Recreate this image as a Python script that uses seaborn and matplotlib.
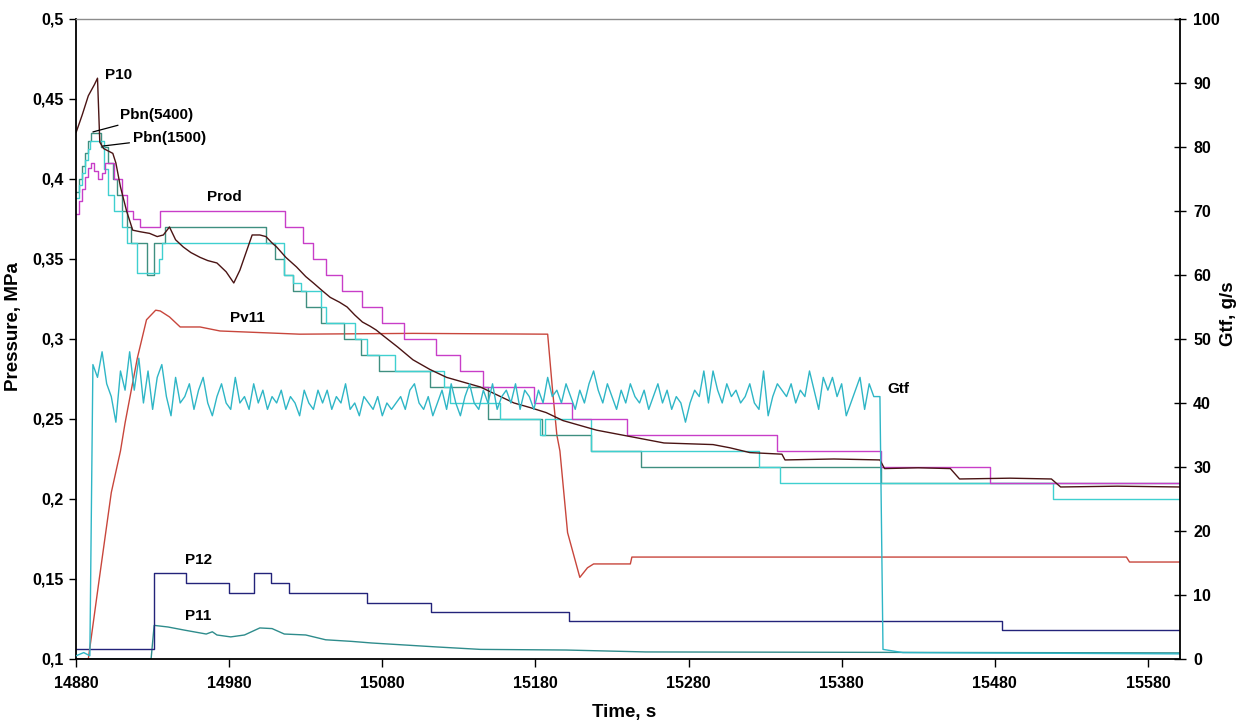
import matplotlib
matplotlib.use('Agg')
import matplotlib.pyplot as plt
import seaborn as sns

# axes
x_ticks = [14880, 14980, 15080, 15180, 15280, 15380, 15480, 15580]
p_ticks = [0.1, 0.15, 0.2, 0.25, 0.3, 0.35, 0.4, 0.45, 0.5]
p_tick_labels = ['0,1', '0,15', '0,2', '0,25', '0,3', '0,35', '0,4', '0,45', '0,5']
g_ticks = [0, 10, 20, 30, 40, 50, 60, 70, 80, 90, 100]

# P10, MPa
p10_t = [14880, 14884, 14888, 14892, 14894, 14895.5, 14898, 14904, 14906, 14909,
         14913, 14917, 14922, 14928, 14933, 14937, 14941, 14945, 14950, 14955,
         14961, 14966, 14972, 14978, 14983, 14987, 14991, 14995, 15000, 15004,
         15008, 15011, 15017, 15024, 15030, 15035, 15041, 15046, 15052, 15057,
         15062, 15067, 15072, 15076, 15080, 15090, 15100, 15111, 15122, 15133,
         15144, 15155, 15166, 15177, 15187, 15198, 15209, 15220, 15231, 15242,
         15253, 15264, 15280, 15296, 15307, 15320, 15341, 15343, 15375, 15405,
         15408, 15430, 15451, 15457, 15490, 15517, 15523, 15560, 15601]
p10 = [0.429, 0.44, 0.452, 0.459, 0.463, 0.423, 0.419, 0.416, 0.41, 0.395,
       0.38, 0.368, 0.367, 0.366, 0.364, 0.365, 0.37, 0.362, 0.3575, 0.354,
       0.351, 0.349, 0.3475, 0.342, 0.335, 0.343, 0.354, 0.365, 0.365, 0.364,
       0.36, 0.3575, 0.351, 0.345, 0.339, 0.335, 0.33, 0.326, 0.323, 0.32,
       0.315, 0.3106, 0.308, 0.3056, 0.3025, 0.295, 0.287, 0.281, 0.276, 0.273,
       0.27, 0.265, 0.26, 0.257, 0.254, 0.249, 0.246, 0.243, 0.241, 0.239,
       0.237, 0.235, 0.2345, 0.234, 0.232, 0.229, 0.228, 0.2244, 0.225, 0.2244,
       0.219, 0.2195, 0.219, 0.2125, 0.213, 0.2125, 0.2075, 0.208, 0.2075]

# Prod (step signal)
prod_t = [14880, 14882, 14884, 14886, 14888, 14890, 14892, 14894, 14897, 14899,
          14905, 14910, 14913, 14917, 14922, 14934.5, 15016.5, 15028, 15035, 15043,
          15054, 15067, 15080, 15094, 15115, 15131, 15146, 15179, 15204, 15240,
          15338, 15406, 15477, 15601]
prod = [0.378, 0.386, 0.394, 0.401, 0.407, 0.41, 0.405, 0.40, 0.404, 0.41,
        0.40, 0.39, 0.38, 0.375, 0.37, 0.38, 0.37, 0.36, 0.35, 0.34,
        0.33, 0.32, 0.31, 0.30, 0.29, 0.28, 0.27, 0.26, 0.25, 0.24,
        0.23, 0.22, 0.21, 0.21]

# Pbn(1500) (step signal)
pbn1500_t = [14880, 14882, 14884, 14886, 14888, 14889, 14898, 14901, 14905, 14910,
             14913, 14920, 14934, 14936, 15016, 15022, 15027, 15040, 15043, 15062,
             15070, 15088, 15120, 15124, 15157, 15183, 15186, 15216, 15326, 15340,
             15518, 15601]
pbn1500 = [0.388, 0.396, 0.404, 0.412, 0.419, 0.424, 0.406, 0.39, 0.38, 0.37,
           0.36, 0.341, 0.35, 0.36, 0.34, 0.335, 0.33, 0.32, 0.31, 0.30,
           0.29, 0.28, 0.27, 0.26, 0.25, 0.24, 0.25, 0.23, 0.22, 0.21,
           0.20, 0.20]

# Pbn(5400) (step signal)
pbn5400_t = [14880, 14882, 14884, 14886, 14888, 14890, 14896, 14901, 14904, 14907,
             14910, 14913, 14916, 14926, 14931, 14938, 15004, 15010, 15016, 15022,
             15030, 15040, 15055, 15066, 15078, 15111, 15149, 15184, 15216, 15249,
             15406, 15601]
pbn5400 = [0.392, 0.40, 0.408, 0.416, 0.424, 0.429, 0.42, 0.41, 0.40, 0.39,
           0.38, 0.37, 0.36, 0.34, 0.36, 0.37, 0.36, 0.35, 0.34, 0.33,
           0.32, 0.31, 0.30, 0.29, 0.28, 0.27, 0.25, 0.24, 0.23, 0.22,
           0.21, 0.21]

# Pv11
pv11_t = [14880, 14888, 14895, 14903, 14909, 14912, 14920, 14926, 14932, 14935,
          14941, 14948, 14961, 14974, 15000, 15026, 15100, 15188, 15191, 15194,
          15196, 15201, 15209, 15214, 15218, 15242, 15243, 15566, 15568, 15601]
pv11 = [0.1, 0.1, 0.149, 0.204, 0.23, 0.2475, 0.288, 0.312, 0.318, 0.3175,
        0.3138, 0.3075, 0.3075, 0.305, 0.304, 0.303, 0.3035, 0.303, 0.27, 0.24,
        0.23, 0.179, 0.151, 0.157, 0.1594, 0.1594, 0.1637, 0.1637, 0.1606, 0.1606]

# P12 (step signal)
p12_t = [14880, 14931, 14952, 14980, 14996, 15007, 15019, 15070, 15112, 15202, 15485, 15601]
p12 = [0.106, 0.154, 0.1475, 0.141, 0.154, 0.1475, 0.141, 0.135, 0.1294, 0.1237, 0.118, 0.118]

# P11
p11_t = [14880, 14929, 14931, 14940, 14951, 14965, 14969, 14972, 14981, 14990, 15000,
         15008, 15016, 15030, 15043, 15060, 15073, 15116, 15144, 15200, 15252, 15601]
p11 = [0.1, 0.1, 0.121, 0.12, 0.118, 0.1156, 0.117, 0.115, 0.1138, 0.115, 0.1194,
       0.119, 0.1156, 0.115, 0.112, 0.111, 0.11, 0.1075, 0.106, 0.1056, 0.1044, 0.1038]

# Gtf, g/s  (sampled every 3 s while the flow is on)
gtf_on = [46, 44, 48, 43, 41, 37, 45, 42, 48, 42,
          47, 40, 45, 39, 44, 46, 41, 38, 44, 40,
          41, 43, 39, 42, 44, 40, 38, 41, 43, 40,
          39, 44, 40, 41, 39, 43, 40, 42, 39, 41,
          40, 42, 39, 41, 40, 38, 42, 40, 39, 42,
          40, 42, 39, 41, 40, 43, 39, 40, 38, 41,
          40, 39, 41, 38, 40, 39, 40, 41, 39, 42,
          43, 40, 39, 41, 38, 40, 42, 39, 43, 40,
          38, 41, 43, 40, 39, 42, 40, 43, 39, 41,
          42, 40, 43, 39, 42, 41, 39, 42, 40, 44,
          41, 42, 40, 43, 41, 39, 42, 40, 43, 45,
          42, 40, 43, 41, 39, 42, 40, 43, 41, 40,
          42, 39, 41, 43, 40, 42, 39, 41, 40, 37,
          40, 42, 41, 45, 40, 45, 42, 40, 43, 41,
          42, 40, 41, 43, 40, 39, 45, 38, 41, 43,
          42, 41, 43, 40, 42, 41, 45, 42, 39, 44,
          42, 44, 41, 43, 38, 40, 42, 44, 39, 43,
          41]
gtf_t = [14880, 14885, 14889] + list(range(14891, 15402, 3)) + [15405, 15407, 15420, 15601]
gtf = [0.5, 1, 0.5] + gtf_on + [41, 1.5, 1, 0.8]

c_p10 = '#4a1414'
c_prod = '#c83ec8'
c_1500 = '#3fd0d0'
c_5400 = '#3f8f80'
c_pv11 = '#c8463c'
c_p12 = '#23237a'
c_p11 = '#2e8c8c'
c_gtf = '#2fb6c6'

sns.set_theme(style='white')
plt.rcParams['font.family'] = ['Liberation Sans', 'DejaVu Sans']
plt.rcParams['font.weight'] = 'bold'
plt.rcParams['text.color'] = 'black'
plt.rcParams['axes.labelcolor'] = 'black'
plt.rcParams['xtick.color'] = 'black'
plt.rcParams['ytick.color'] = 'black'

fig = plt.figure(figsize=(12.47, 7.24), dpi=100)
ax = fig.add_axes([0.061, 0.0898, 0.8853, 0.884])
ax2 = ax.twinx()


def draw(axis, t, v, color, steps=False):
    sns.lineplot(x=t, y=v, ax=axis, color=color, lw=1.0, estimator=None, sort=False,
                 drawstyle='steps-post' if steps else 'default')


draw(ax, p11_t, p11, c_p11)
draw(ax, p12_t, p12, c_p12, steps=True)
draw(ax, pv11_t, pv11, c_pv11)
draw(ax, pbn5400_t, pbn5400, c_5400, steps=True)
draw(ax, pbn1500_t, pbn1500, c_1500, steps=True)
draw(ax, prod_t, prod, c_prod, steps=True)
draw(ax, p10_t, p10, c_p10)
draw(ax2, gtf_t, gtf, c_gtf)

ax.set_xlim(14880, 15601)
ax.set_ylim(0.1, 0.5)
ax2.set_ylim(0, 100)
ax.set_xticks(x_ticks)
ax.set_yticks(p_ticks)
ax.set_yticklabels(p_tick_labels)
ax2.set_yticks(g_ticks)

for s in ['left', 'bottom']:
    ax.spines[s].set_color('black')
    ax.spines[s].set_linewidth(1.3)
ax.spines['top'].set_color('#8c8c8c')
ax.spines['top'].set_linewidth(1.0)
ax.spines['right'].set_visible(False)
for s in ['left', 'bottom', 'top']:
    ax2.spines[s].set_visible(False)
ax2.spines['right'].set_color('black')
ax2.spines['right'].set_linewidth(1.3)

ax.tick_params(axis='y', direction='out', length=5, width=1, color='black', labelsize=11.5, pad=4)
ax.tick_params(axis='x', direction='out', length=6, width=1, color='black', labelsize=11.5, pad=6)
ax2.tick_params(axis='y', direction='inout', length=9, width=1, color='black', labelsize=11.5, pad=5)
ax.tick_params(left=True, bottom=True)
ax2.tick_params(right=True)

ax.set_xlabel('Time, s', fontsize=13.5, fontweight='bold')
ax.set_ylabel('Pressure, MPa', fontsize=13.5, fontweight='bold')
ax2.set_ylabel('Gtf, g/s', fontsize=13.5, fontweight='bold')
ax.xaxis.set_label_coords(0.496, -0.071)
ax.yaxis.set_label_coords(-0.049, 0.52)
ax2.yaxis.set_label_coords(1.036, 0.54)

lab = dict(fontsize=11, fontweight='bold', va='center', ha='left', color='black')
ax.text(14899, 0.465, 'P10', **lab)
ax.annotate('Pbn(5400)', xy=(14891, 0.4294), xytext=(14908.7, 0.44),
            arrowprops=dict(arrowstyle='-', color='black', lw=0.9, shrinkA=0, shrinkB=0), **lab)
ax.annotate('Pbn(1500)', xy=(14897.6, 0.4206), xytext=(14917, 0.4256),
            arrowprops=dict(arrowstyle='-', color='black', lw=0.9, shrinkA=0, shrinkB=0), **lab)
ax.text(14965.6, 0.389, 'Prod', **lab)
ax.text(14980.6, 0.313, 'Pv11', **lab)
ax.text(15410, 0.269, 'Gtf', **lab)
ax.text(14951, 0.162, 'P12', **lab)
ax.text(14951, 0.127, 'P11', **lab)

fig.savefig('out.png', dpi=100)
